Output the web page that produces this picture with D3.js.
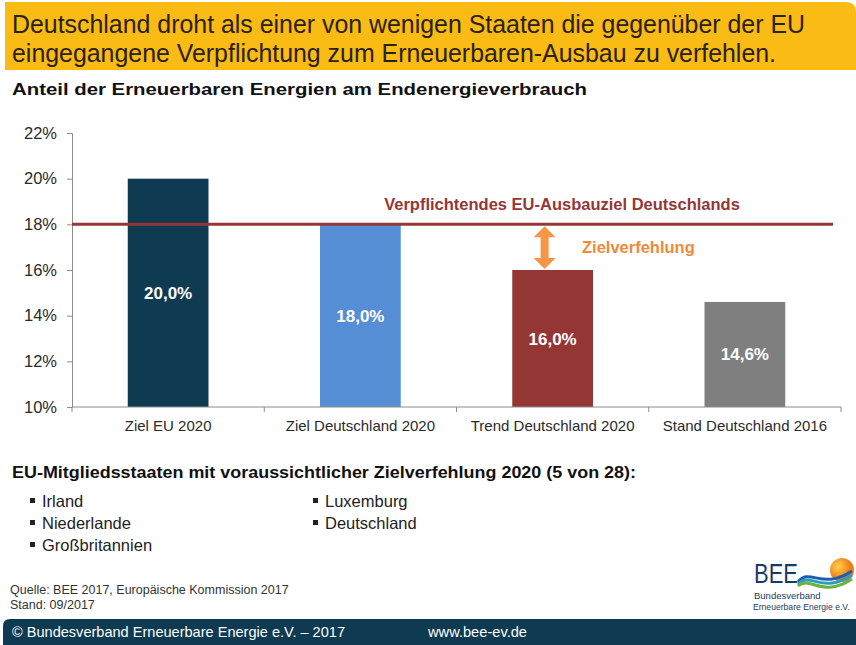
<!DOCTYPE html>
<html>
<head>
<meta charset="utf-8">
<script src="https://cdn.jsdelivr.net/npm/d3@7"></script>
<style>
    body { margin: 0; background: #ffffff; }
    svg { display: block; font-family: "Liberation Sans", Arial, sans-serif; }
</style>
</head>
<body>
<div id="chart"></div>
<script>
// Data
var categories = ["Ziel EU 2020", "Ziel Deutschland 2020", "Trend Deutschland 2020", "Stand Deutschland 2016"];
var shares = [20.0, 18.0, 16.0, 14.6];
var barColors = ["#0e3a52", "#558ed5", "#943634", "#7f7f7f"];
var yTicks = [10, 12, 14, 16, 18, 20, 22];
var targetShare = 18;
var laggardsLeft = ["Irland", "Niederlande", "Großbritannien"];
var laggardsRight = ["Luxemburg", "Deutschland"];

var width = 856, height = 645;

var de = d3.formatLocale({decimal: ",", thousands: ".", grouping: [3], currency: ["", " €"]});
var fmtValue = function (v) { return de.format(".1f")(v) + "%"; };

var svg = d3.select("#chart").append("svg")
    .attr("width", width)
    .attr("height", height);

// Header box
svg.append("path")
    .attr("d", "M5,2 H846 Q856,2 856,12 V70 H5 Z")
    .attr("fill", "#f9bb14");

var headerLines = [
    ["Deutschland droht als einer von wenigen Staaten die gegenüber der EU", 33, 793],
    ["eingegangene Verpflichtung zum Erneuerbaren-Ausbau zu verfehlen.", 62, 764]
];
svg.selectAll("text.header")
    .data(headerLines)
    .join("text")
    .attr("class", "header")
    .attr("x", 12)
    .attr("y", function (d) { return d[1]; })
    .attr("textLength", function (d) { return d[2]; })
    .attr("lengthAdjust", "spacingAndGlyphs")
    .attr("font-size", 25)
    .attr("fill", "#2b2113")
    .text(function (d) { return d[0]; });

svg.append("text")
    .attr("x", 12)
    .attr("y", 95)
    .attr("textLength", 575)
    .attr("lengthAdjust", "spacingAndGlyphs")
    .attr("font-size", 17)
    .attr("font-weight", "bold")
    .attr("fill", "#111")
    .text("Anteil der Erneuerbaren Energien am Endenergieverbrauch");

// Scales
var x = d3.scaleBand()
    .domain(categories)
    .range([72, 841]);
var y = d3.scaleLinear()
    .domain([10, 22])
    .range([407, 133]);
var barWidth = x.bandwidth() * 0.42;

// Axes
var yAxis = svg.append("g")
    .attr("transform", "translate(72,0)")
    .call(d3.axisLeft(y).tickValues(yTicks).tickSize(5).tickPadding(10)
        .tickFormat(function (d) { return d + "%"; }));
yAxis.selectAll("line, path").attr("stroke", "#8c8c8c");
yAxis.selectAll("text").attr("font-size", 16.5).attr("fill", "#2a2a2a")
    .attr("font-family", "Liberation Sans, Arial, sans-serif");

svg.append("g").selectAll("line")
    .data(d3.range(categories.length + 1))
    .join("line")
    .attr("x1", function (i) { return 72 + i * x.step(); })
    .attr("x2", function (i) { return 72 + i * x.step(); })
    .attr("y1", y(10))
    .attr("y2", y(10) + 5)
    .attr("stroke", "#8c8c8c");

// Bars
svg.append("g").selectAll("rect")
    .data(shares)
    .join("rect")
    .attr("x", function (d, i) { return x(categories[i]) + (x.bandwidth() - barWidth) / 2; })
    .attr("y", function (d) { return y(d); })
    .attr("width", barWidth)
    .attr("height", function (d) { return y(10) - y(d); })
    .attr("fill", function (d, i) { return barColors[i]; });

svg.append("line")
    .attr("x1", 72).attr("x2", 841)
    .attr("y1", y(10)).attr("y2", y(10))
    .attr("stroke", "#8c8c8c");

svg.append("g").selectAll("text")
    .data(shares)
    .join("text")
    .attr("x", function (d, i) { return x(categories[i]) + x.bandwidth() / 2; })
    .attr("y", function (d) { return (y(d) + y(10)) / 2 + 6; })
    .attr("text-anchor", "middle")
    .attr("font-size", 17)
    .attr("font-weight", "bold")
    .attr("fill", "#ffffff")
    .text(fmtValue);

svg.append("g").selectAll("text")
    .data(categories)
    .join("text")
    .attr("x", function (d) { return x(d) + x.bandwidth() / 2; })
    .attr("y", 431)
    .attr("text-anchor", "middle")
    .attr("font-size", 15)
    .attr("fill", "#2a2a2a")
    .text(function (d) { return d; });

// Target line
svg.append("line")
    .attr("x1", 72).attr("x2", 833)
    .attr("y1", y(targetShare)).attr("y2", y(targetShare))
    .attr("stroke", "#943634")
    .attr("stroke-width", 3);

svg.append("text")
    .attr("x", 562)
    .attr("y", 210)
    .attr("text-anchor", "middle")
    .attr("font-size", 16.5)
    .attr("font-weight", "bold")
    .attr("fill", "#953735")
    .text("Verpflichtendes EU-Ausbauziel Deutschlands");

// Gap arrow between target and trend
var ax = x(categories[2]) + x.bandwidth() / 2 - 8;
var ay1 = y(targetShare) + 2, ay2 = y(shares[2]) - 1;
var head = 11, half = 11, shaft = 4;
svg.append("path")
    .attr("d", "M" + ax + "," + ay1 +
        " L" + (ax + half) + "," + (ay1 + head) +
        " L" + (ax + shaft) + "," + (ay1 + head) +
        " L" + (ax + shaft) + "," + (ay2 - head) +
        " L" + (ax + half) + "," + (ay2 - head) +
        " L" + ax + "," + ay2 +
        " L" + (ax - half) + "," + (ay2 - head) +
        " L" + (ax - shaft) + "," + (ay2 - head) +
        " L" + (ax - shaft) + "," + (ay1 + head) +
        " L" + (ax - half) + "," + (ay1 + head) + " Z")
    .attr("fill", "#f79646");

svg.append("text")
    .attr("x", 582)
    .attr("y", 253)
    .attr("font-size", 16.5)
    .attr("font-weight", "bold")
    .attr("fill", "#ef8a38")
    .text("Zielverfehlung");

// Member states list
svg.append("text")
    .attr("x", 12)
    .attr("y", 478)
    .attr("textLength", 624)
    .attr("lengthAdjust", "spacingAndGlyphs")
    .attr("font-size", 16.5)
    .attr("font-weight", "bold")
    .attr("fill", "#111")
    .text("EU-Mitgliedsstaaten mit voraussichtlicher Zielverfehlung 2020 (5 von 28):");

function drawList(items, x0) {
    var g = svg.append("g");
    g.selectAll("rect")
        .data(items)
        .join("rect")
        .attr("x", x0)
        .attr("y", function (d, i) { return 498 + i * 22; })
        .attr("width", 5).attr("height", 5)
        .attr("fill", "#222");
    g.selectAll("text")
        .data(items)
        .join("text")
        .attr("x", x0 + 12)
        .attr("y", function (d, i) { return 507 + i * 22; })
        .attr("font-size", 16.5)
        .attr("fill", "#222")
        .text(function (d) { return d; });
}
drawList(laggardsLeft, 30);
drawList(laggardsRight, 313);

// Source
svg.append("text").attr("x", 10).attr("y", 594).attr("font-size", 12.5).attr("fill", "#333")
    .text("Quelle: BEE 2017, Europäische Kommission 2017");
svg.append("text").attr("x", 10).attr("y", 609).attr("font-size", 12.5).attr("fill", "#333")
    .text("Stand: 09/2017");

// Logo
var defs = svg.append("defs");
var sun = defs.append("radialGradient").attr("id", "sun").attr("cx", "35%").attr("cy", "35%");
sun.append("stop").attr("offset", "0%").attr("stop-color", "#fcd24a");
sun.append("stop").attr("offset", "100%").attr("stop-color", "#ef7d1a");
svg.append("circle").attr("cx", 842).attr("cy", 570).attr("r", 12).attr("fill", "url(#sun)");
var waves = [["#1d5ea8", 0], ["#2a9bc4", 4], ["#6bb43a", 8]];
svg.append("g").selectAll("path")
    .data(waves)
    .join("path")
    .attr("d", function (d) {
        var o = d[1];
        return "M798," + (582 + o / 2) + " C810," + (567 + o) + " 822," + (591 + o) + " 852," + (571 + o);
    })
    .attr("fill", "none")
    .attr("stroke", function (d) { return d[0]; })
    .attr("stroke-width", 3);
svg.append("text").attr("x", 754).attr("y", 583).attr("font-size", 28)
    .attr("font-weight", 300).attr("fill", "#173b66")
    .attr("textLength", 44).attr("lengthAdjust", "spacingAndGlyphs")
    .text("BEE");
svg.append("text").attr("x", 754).attr("y", 599).attr("font-size", 9.5).attr("fill", "#173b66")
    .text("Bundesverband");
svg.append("text").attr("x", 753).attr("y", 610).attr("font-size", 8.6).attr("fill", "#173b66")
    .text("Erneuerbare Energie e.V.");

// Footer
svg.append("path")
    .attr("d", "M3,626 Q3,619 10,619 H856 V645 H3 Z")
    .attr("fill", "#0e3a52");
svg.append("text").attr("x", 12).attr("y", 637).attr("font-size", 15).attr("fill", "#ffffff")
    .attr("textLength", 333).attr("lengthAdjust", "spacingAndGlyphs")
    .text("© Bundesverband Erneuerbare Energie e.V. – 2017");
svg.append("text").attr("x", 428).attr("y", 637).attr("font-size", 15).attr("fill", "#ffffff")
    .attr("textLength", 99).attr("lengthAdjust", "spacingAndGlyphs")
    .text("www.bee-ev.de");
</script>
</body>
</html>
